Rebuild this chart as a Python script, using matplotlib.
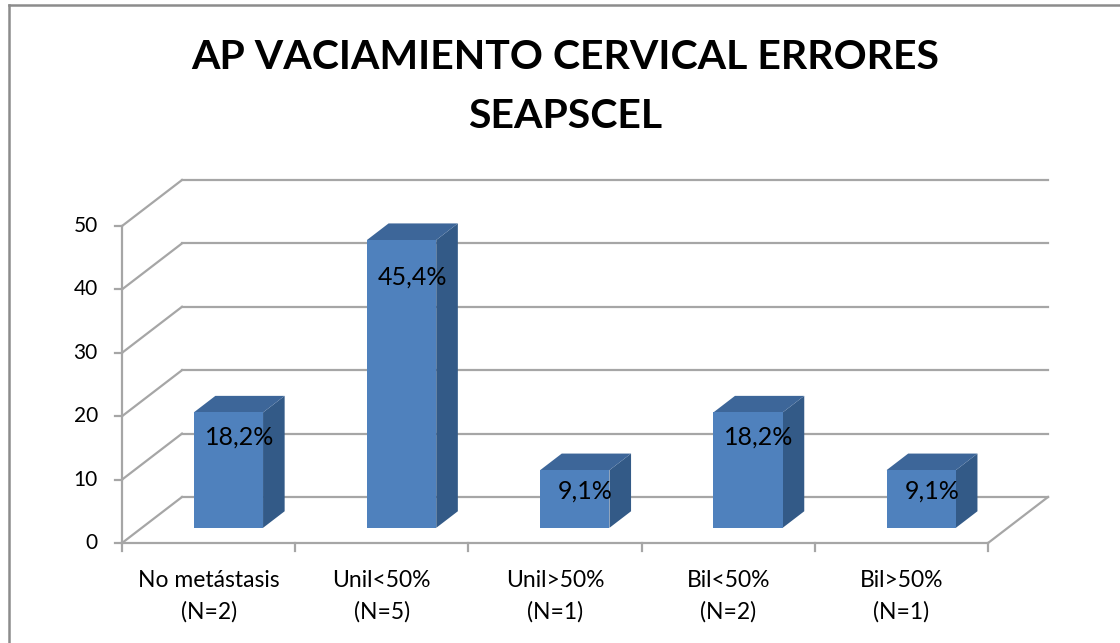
import numpy as np
import matplotlib.pyplot as plt
from matplotlib.patches import Polygon
from matplotlib.lines import Line2D

plt.rcParams['font.family'] = ['Lato', 'DejaVu Sans']

#
# Data
categories = ['No metástasis\n(N=2)', 'Unil<50%\n(N=5)', 'Unil>50%\n(N=1)',
              'Bil<50%\n(N=2)', 'Bil>50%\n(N=1)']
values = [18.2, 45.4, 9.1, 18.2, 9.1]
labels = ['18,2%', '45,4%', '9,1%', '18,2%', '9,1%']
yticks = [0, 10, 20, 30, 40, 50]
title = 'AP VACIAMIENTO CERVICAL ERRORES\nSEAPSCEL'

#
# Fake 3D look: depth d in [0, 1] shifts points right and up
DX = 0.3464
DY = 7.26
d0, d1 = 0.33, 0.69
bar_w = 0.4
grid_c = '#a6a6a6'


def p(x, y, d):
    return (x + d * DX, y + d * DY)


fig = plt.figure(figsize=(11.2, 6.43), dpi=100)
ax = fig.add_axes([0, 0, 1, 1])
ax.set_xlim(-0.7044, 5.762)
ax.set_ylim(-15.77, 85.65)
ax.axis('off')

n = len(categories)
ymax = yticks[-1]
#
# Walls and floor
for v in yticks:
    a, b = p(0, v, 1), p(n, v, 1)
    ax.plot([a[0], b[0]], [a[1], b[1]], color=grid_c, lw=1.6, zorder=1)
    a, b = p(0, v, 0), p(0, v, 1)
    ax.plot([a[0], b[0]], [a[1], b[1]], color=grid_c, lw=1.6, zorder=1)
    ax.plot([-0.04, 0], [v, v], color=grid_c, lw=1.6, zorder=1)
    ax.text(-0.14, v, str(v), ha='right', va='center', fontsize=15)

a, b = p(n, 0, 0), p(n, 0, 1)
ax.plot([0, n], [0, 0], color=grid_c, lw=1.6, zorder=1)
ax.plot([a[0], b[0]], [a[1], b[1]], color=grid_c, lw=1.6, zorder=1)
ax.plot([0, 0], [0, ymax], color=grid_c, lw=1.6, zorder=1)
for i in range(n + 1):
    ax.plot([i, i], [0, -1.3], color=grid_c, lw=1.6, zorder=1)

#
# Bars
for i, v in enumerate(values):
    c = i + 0.5
    l, r = c - bar_w / 2, c + bar_w / 2
    front = [p(l, 0, d0), p(r, 0, d0), p(r, v, d0), p(l, v, d0)]
    side = [p(r, 0, d0), p(r, 0, d1), p(r, v, d1), p(r, v, d0)]
    top = [p(l, v, d0), p(r, v, d0), p(r, v, d1), p(l, v, d1)]
    ax.add_patch(Polygon(side, closed=True, fc='#335a87', ec='none', zorder=3))
    ax.add_patch(Polygon(top, closed=True, fc='#3d6699', ec='none', zorder=3))
    ax.add_patch(Polygon(front, closed=True, fc='#4f81bd', ec='none', zorder=4))
    lx = p(c, 0, (d0 + d1) / 2)[0]
    ly = 0.93 * v - 2.6 + d0 * DY
    ax.text(lx, ly, labels[i], ha='center', va='center', fontsize=18, zorder=5)
    ax.text(c, -8.36, categories[i], ha='center', va='center', fontsize=16.5,
            linespacing=1.55)

#
# Title and chart frame
fig.text(0.505, 0.865, title, ha='center', va='center', fontsize=29.5,
         fontweight='bold', linespacing=1.75)
fig.add_artist(Line2D([9 / 1120, 9 / 1120], [0, 1 - 5 / 643],
                      color='#8c8c8c', lw=1.8))
fig.add_artist(Line2D([9 / 1120, 1], [1 - 5 / 643, 1 - 5 / 643],
                      color='#8c8c8c', lw=1.8))

fig.savefig('out.png', dpi=100)
